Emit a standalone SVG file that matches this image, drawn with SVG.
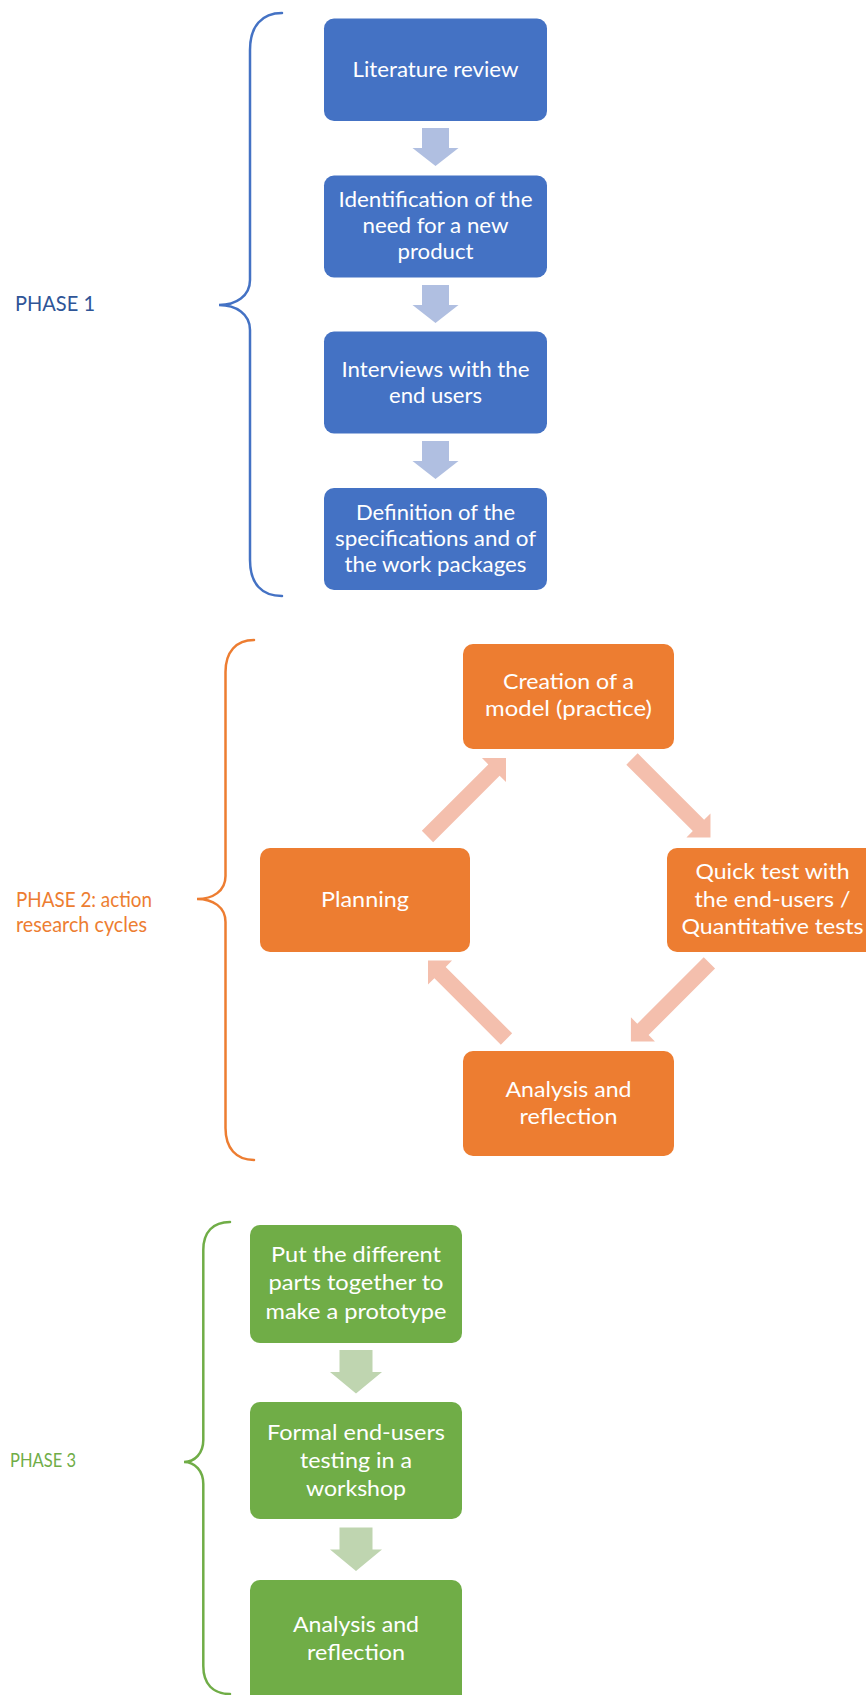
<svg xmlns="http://www.w3.org/2000/svg" width="866" height="1695" viewBox="0 0 866 1695">
<style>
  .t { font-family: Lato, "Open Sans", "Liberation Sans", sans-serif; font-size: 21px; fill: #FFFFFF; text-anchor: middle; }
  .lbl { font-family: Lato, "Open Sans", "Liberation Sans", sans-serif; font-size: 21px; }
  .b1 { fill: #4472C4; }
  .b2 { fill: #ED7D31; }
  .b3 { fill: #70AD47; }
  .a1 { fill: #B0BFE1; }
  .a2 { fill: #F4BFAD; }
  .a3 { fill: #BFD5B0; }
  .brace { fill: none; stroke-width: 2.5; stroke-linecap: round; }
</style>
<defs>
  <polygon id="diag" points="0,-8 94,-8 94,-17 111,0 94,17 94,8 0,8"/>
</defs>
<rect width="866" height="1695" fill="#FFFFFF"/>

<!-- Phase labels and braces -->
<g id="phase1">
  <path class="brace" stroke="#4472C4" d="M 282,13 C 262,13 250,26 250,50 L 250,280 C 250,296 236,305 219,305 C 236,305 250,314 250,330 L 250,560 C 250,584 262,596 282,596"/>
  <text class="lbl" x="15" y="311" fill="#2F5597" textLength="80" lengthAdjust="spacingAndGlyphs">PHASE 1</text>
</g>
<g id="phase2">
  <path class="brace" stroke="#ED7D31" d="M 254,640 C 236,640 225.5,652 225.5,672 L 225.5,876 C 225.5,891 213,899 197,899 C 213,899 225.5,907 225.5,922 L 225.5,1128 C 225.5,1148 236,1160 254,1160"/>
  <text class="lbl" x="16" y="907" fill="#ED7D31" textLength="136" lengthAdjust="spacingAndGlyphs">PHASE 2: action</text>
  <text class="lbl" x="16" y="932" fill="#ED7D31" textLength="131" lengthAdjust="spacingAndGlyphs">research cycles</text>
</g>
<g id="phase3">
  <path class="brace" stroke="#70AD47" d="M 230,1222 C 213,1222 203.3,1232 203.3,1250 L 203.3,1440 C 203.3,1453 195,1462 184,1462 C 195,1462 203.3,1471 203.3,1484 L 203.3,1666 C 203.3,1684 213,1694 230,1694"/>
  <text class="lbl" x="10" y="1467" fill="#70AD47" style="font-size:19px" textLength="66" lengthAdjust="spacingAndGlyphs">PHASE 3</text>
</g>

<!-- Connectors -->
<g id="connectors">
  <polygon class="a1" points="422,128 449,128 449,148 458.5,148 435.5,166 412.5,148 422,148"/>
  <polygon class="a1" points="422,285 449,285 449,305 458.5,305 435.5,323 412.5,305 422,305"/>
  <polygon class="a1" points="422,441 449,441 449,461 458.5,461 435.5,479 412.5,461 422,461"/>
  <use href="#diag" class="a2" transform="translate(427.5,836.5) rotate(-45)"/>
  <use href="#diag" class="a2" transform="translate(632,759) rotate(45)"/>
  <use href="#diag" class="a2" transform="translate(709.4,962.9) rotate(135)"/>
  <use href="#diag" class="a2" transform="translate(506.5,1039) rotate(-135)"/>
  <polygon class="a3" points="339.5,1350 372.5,1350 372.5,1372 382,1372 356,1393.5 330,1372 339.5,1372"/>
  <polygon class="a3" points="339.5,1527.5 372.5,1527.5 372.5,1549.5 382,1549.5 356,1571 330,1549.5 339.5,1549.5"/>
</g>

<!-- Phase 1 nodes -->
<g id="p1-literature">
  <rect class="b1" x="324" y="18.5" width="223" height="102.5" rx="10"/>
  <text class="t" x="435.5" y="77" textLength="166" lengthAdjust="spacingAndGlyphs">Literature review</text>
</g>
<g id="p1-identification">
  <rect class="b1" x="324" y="175.5" width="223" height="102" rx="10"/>
  <text class="t" x="435.5" y="207" textLength="194" lengthAdjust="spacingAndGlyphs">Identification of the</text>
  <text class="t" x="435.5" y="233" textLength="146" lengthAdjust="spacingAndGlyphs">need for a new</text>
  <text class="t" x="435.5" y="259" textLength="76" lengthAdjust="spacingAndGlyphs">product</text>
</g>
<g id="p1-interviews">
  <rect class="b1" x="324" y="331.5" width="223" height="102" rx="10"/>
  <text class="t" x="435.5" y="377" textLength="188" lengthAdjust="spacingAndGlyphs">Interviews with the</text>
  <text class="t" x="435.5" y="403" textLength="93" lengthAdjust="spacingAndGlyphs">end users</text>
</g>
<g id="p1-definition">
  <rect class="b1" x="324" y="488" width="223" height="102" rx="10"/>
  <text class="t" x="435.5" y="520" textLength="159" lengthAdjust="spacingAndGlyphs">Definition of the</text>
  <text class="t" x="435.5" y="546" textLength="201" lengthAdjust="spacingAndGlyphs">specifications and of</text>
  <text class="t" x="435.5" y="572" textLength="182" lengthAdjust="spacingAndGlyphs">the work packages</text>
</g>

<!-- Phase 2 nodes -->
<g id="p2-creation">
  <rect class="b2" x="463" y="644" width="211" height="105" rx="10"/>
  <text class="t" x="568.5" y="689" textLength="131" lengthAdjust="spacingAndGlyphs">Creation of a</text>
  <text class="t" x="568.5" y="716" textLength="167" lengthAdjust="spacingAndGlyphs">model (practice)</text>
</g>
<g id="p2-planning">
  <rect class="b2" x="260" y="848" width="210" height="104" rx="10"/>
  <text class="t" x="365" y="906.5" textLength="88" lengthAdjust="spacingAndGlyphs">Planning</text>
</g>
<g id="p2-quicktest">
  <rect class="b2" x="667" y="848" width="211" height="104" rx="10"/>
  <text class="t" x="772.5" y="879" textLength="154" lengthAdjust="spacingAndGlyphs">Quick test with</text>
  <text class="t" x="772.5" y="906.5" textLength="156" lengthAdjust="spacingAndGlyphs">the end-users /</text>
  <text class="t" x="772.5" y="934" textLength="182" lengthAdjust="spacingAndGlyphs">Quantitative tests</text>
</g>
<g id="p2-analysis">
  <rect class="b2" x="463" y="1051" width="211" height="105" rx="10"/>
  <text class="t" x="568.5" y="1097" textLength="126" lengthAdjust="spacingAndGlyphs">Analysis and</text>
  <text class="t" x="568.5" y="1124" textLength="98" lengthAdjust="spacingAndGlyphs">reflection</text>
</g>

<!-- Phase 3 nodes -->
<g id="p3-prototype">
  <rect class="b3" x="250" y="1225" width="212" height="118" rx="10"/>
  <text class="t" x="356" y="1262" textLength="170" lengthAdjust="spacingAndGlyphs">Put the different</text>
  <text class="t" x="356" y="1290" textLength="175" lengthAdjust="spacingAndGlyphs">parts together to</text>
  <text class="t" x="356" y="1318.5" textLength="181" lengthAdjust="spacingAndGlyphs">make a prototype</text>
</g>
<g id="p3-testing">
  <rect class="b3" x="250" y="1402" width="212" height="117" rx="10"/>
  <text class="t" x="356" y="1439.5" textLength="178" lengthAdjust="spacingAndGlyphs">Formal end-users</text>
  <text class="t" x="356" y="1468" textLength="112" lengthAdjust="spacingAndGlyphs">testing in a</text>
  <text class="t" x="356" y="1496" textLength="100" lengthAdjust="spacingAndGlyphs">workshop</text>
</g>
<g id="p3-analysis">
  <rect class="b3" x="250" y="1580" width="212" height="125" rx="10"/>
  <text class="t" x="356" y="1632" textLength="126" lengthAdjust="spacingAndGlyphs">Analysis and</text>
  <text class="t" x="356" y="1660" textLength="98" lengthAdjust="spacingAndGlyphs">reflection</text>
</g>
</svg>
